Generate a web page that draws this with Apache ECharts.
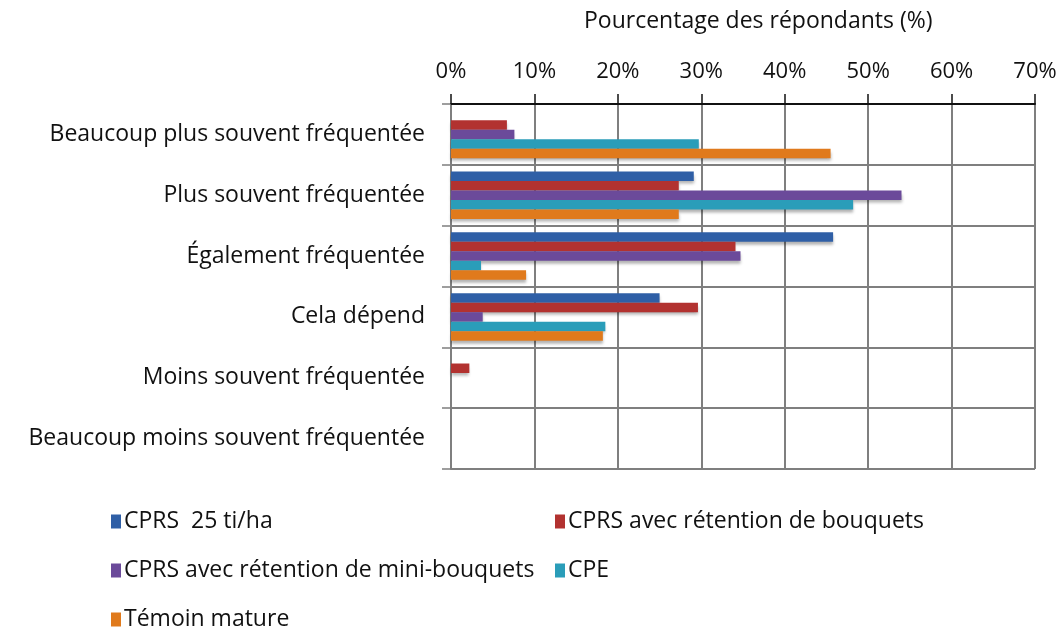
<!DOCTYPE html>
<html>
<head>
<meta charset="utf-8">
<script src="https://cdn.jsdelivr.net/npm/echarts@6/dist/echarts.min.js"></script>
<style>
  html, body { margin: 0; padding: 0; background: #fff; }
  #chart { width: 1064px; height: 634px; }
</style>
</head>
<body>
<div id="chart"></div>
<script>
var categories = [
  'Beaucoup plus souvent fréquentée',
  'Plus souvent fréquentée',
  'Également fréquentée',
  'Cela dépend',
  'Moins souvent fréquentée',
  'Beaucoup moins souvent fréquentée'
]
var seriesNames = [
  'CPRS  25 ti/ha',
  'CPRS avec rétention de bouquets',
  'CPRS avec rétention de mini-bouquets',
  'CPE',
  'Témoin mature'
]
var cprs25 = [0, 29.1, 45.8, 25.0, 0, 0]
var cprsBouquets = [6.7, 27.3, 34.1, 29.6, 2.2, 0]
var cprsMini = [7.6, 54.0, 34.7, 3.8, 0, 0]
var cpe = [29.7, 48.2, 3.6, 18.5, 0, 0]
var temoin = [45.5, 27.3, 9.0, 18.2, 0, 0]
var seriesData = [cprs25, cprsBouquets, cprsMini, cpe, temoin]
var colors = ['#2f5fa6', '#b23230', '#6b4a9a', '#2a9db9', '#e07a1c']

var FONT = 'Open Sans'
var FS = 23
var myChart = echarts.init(document.getElementById('chart'))

var series = seriesData.map(function (d, i) {
  return {
    name: seriesNames[i],
    type: 'bar',
    data: d,
    barWidth: 9.5,
    barGap: '0%',
    itemStyle: {
      color: colors[i],
      shadowColor: 'rgba(0,0,0,0.3)',
      shadowBlur: 3,
      shadowOffsetY: 3
    }
  }
})

// legende : 2 colonnes, une legende par element
var legendPos = [[111, 510], [555, 510], [111, 559], [555, 559], [111, 608]]
var legends = seriesNames.map(function (name, i) {
  return {
    data: [name],
    left: legendPos[i][0],
    top: legendPos[i][1],
    padding: 0,
    itemWidth: 10,
    itemHeight: 14,
    icon: 'rect',
    textStyle: { color: '#111', fontFamily: FONT, fontSize: FS, lineHeight: 22, padding: [0, 0, 0, -2] }
  }
})

var option = {
  animation: false,
  color: colors,
  title: {
    text: 'Pourcentage des répondants (%)',
    left: 579,
    top: 5,
    textStyle: { color: '#111', fontFamily: FONT, fontSize: FS, fontWeight: 'normal' }
  },
  legend: legends,
  grid: {
    left: 451,
    right: 29,
    top: 104,
    height: 365
  },
  xAxis: {
    type: 'value',
    position: 'top',
    min: 0,
    max: 70,
    interval: 10,
    axisLine: { show: true, lineStyle: { color: '#111', width: 2 } },
    axisTick: { show: true, length: 10, lineStyle: { color: '#111', width: 1.5 } },
    axisLabel: {
      formatter: '{value}%',
      margin: 21,
      color: '#111',
      fontFamily: FONT,
      fontSize: 22
    },
    splitLine: { show: true, lineStyle: { color: '#7f7f7f', width: 2 } }
  },
  yAxis: {
    type: 'category',
    inverse: true,
    data: categories,
    axisLine: { show: true, lineStyle: { color: '#7f7f7f', width: 2 } },
    axisTick: { show: true, length: 9, lineStyle: { color: '#7f7f7f', width: 1.5 } },
    axisLabel: {
      margin: 26,
      color: '#111',
      fontFamily: FONT,
      fontSize: FS
    },
    splitLine: { show: true, lineStyle: { color: '#7f7f7f', width: 2 } }
  },
  series: series
}

myChart.setOption(option)
window.addEventListener('resize', function () {
  myChart.resize()
})
</script>
</body>
</html>
